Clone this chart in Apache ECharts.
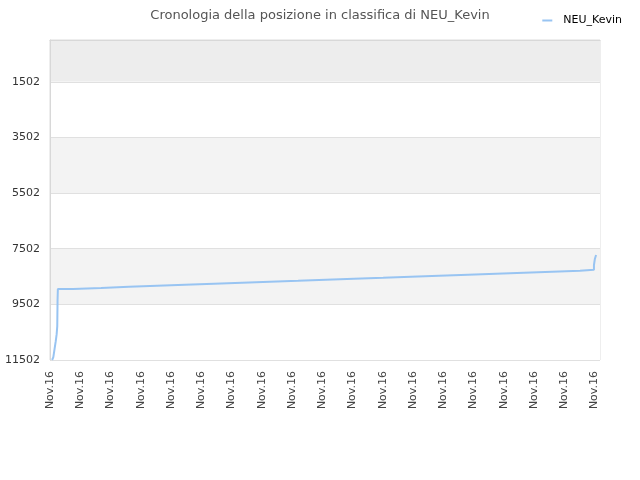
<!DOCTYPE html>
<html>
<head>
<meta charset="utf-8">
<script src="https://cdn.jsdelivr.net/npm/echarts@6/dist/echarts.min.js"></script>
<style>
html, body { margin: 0; padding: 0; background: #fff; }
#chart { width: 640px; height: 480px; }
</style>
</head>
<body>
<div id="chart"></div>
<script>
// etichette asse x (una per tacca)
var etichette = ["Nov.16", "Nov.16", "Nov.16", "Nov.16", "Nov.16", "Nov.16", "Nov.16",
	"Nov.16", "Nov.16", "Nov.16", "Nov.16", "Nov.16", "Nov.16", "Nov.16", "Nov.16",
	"Nov.16", "Nov.16", "Nov.16", "Nov.16"];
// tacche asse y
var tackeY = [1502, 3502, 5502, 7502, 9502, 11502];
// istanti dei cambi di posizione (in unita' di etichetta)
var tempi = [0.07, 0.11, 0.15, 0.19, 0.22, 0.24, 0.25, 0.26,
	0.76, 1.69, 2.61, 3.54, 4.46, 5.42, 6.35, 7.27, 8.20, 9.12, 10.05,
	11.01, 11.93, 12.86, 13.82, 14.74, 15.67, 16.60, 17.52,
	17.98, 18.01, 18.05];
// posizione in classifica
var posizioni = [11502, 11402, 11114, 10826, 10573, 10285, 9348, 8952,
	8916, 8869, 8833, 8797, 8760, 8724, 8688, 8652, 8616, 8580, 8544,
	8508, 8472, 8436, 8400, 8364, 8328, 8292, 8256,
	8087, 7871, 7726];

var chart = echarts.init(document.getElementById("chart"));

var punti = [];
for (var i = 0; i < tempi.length; i++) {
	punti.push([tempi[i], posizioni[i]]);
}

chart.setOption({
	animation : false,
	textStyle : {
		fontFamily : "DejaVu Sans"
	},
	title : {
		text : "Cronologia della posizione in classifica di NEU_Kevin",
		left : "center",
		top : 4,
		textStyle : {
			fontSize : 13,
			fontWeight : "normal",
			color : "#555"
		}
	},
	legend : {
		right : 13,
		top : 10,
		icon : "rect",
		itemWidth : 10,
		itemHeight : 2,
		textStyle : {
			fontSize : 11,
			color : "#000",
			padding : [0, 0, 0, 6]
		},
		data : ["NEU_Kevin"]
	},
	grid : {
		left : 50,
		right : 40,
		top : 40,
		bottom : 120,
		show : true,
		borderColor : "#dddddd",
		borderWidth : 1
	},
	xAxis : {
		type : "value",
		min : 0,
		max : 18.18,
		interval : 1,
		axisLine : {
			show : true,
			lineStyle : { color : "#d8d8d8" }
		},
		axisTick : { show : false },
		splitLine : { show : false },
		axisLabel : {
			rotate : 90,
			margin : 11,
			fontSize : 11,
			color : "#444",
			showMaxLabel : false,
			formatter : function(v) {
				var k = Math.round(v);
				return etichette[k] || "";
			}
		}
	},
	yAxis : {
		type : "value",
		inverse : true,
		min : 0,
		max : 11502,
		axisLine : {
			show : true,
			lineStyle : { color : "#d8d8d8" }
		},
		axisTick : {
			show : false,
			customValues : [0].concat(tackeY)
		},
		axisLabel : {
			customValues : tackeY,
			margin : 10,
			fontSize : 11,
			color : "#333",
			formatter : function(v) {
				return String(v);
			}
		},
		splitLine : {
			show : true,
			lineStyle : { color : "#e0e0e0" }
		},
		splitArea : {
			show : true,
			areaStyle : {
				color : ["#ededed", "#ffffff", "#f3f3f3", "#ffffff", "#f3f3f3", "#ffffff"]
			}
		}
	},
	series : [ {
		name : "NEU_Kevin",
		type : "line",
		step : "end",
		symbol : "none",
		lineStyle : {
			color : "#98c4f2",
			width : 2
		},
		itemStyle : {
			color : "#98c4f2"
		},
		data : punti
	} ]
});
</script>
</body>
</html>
